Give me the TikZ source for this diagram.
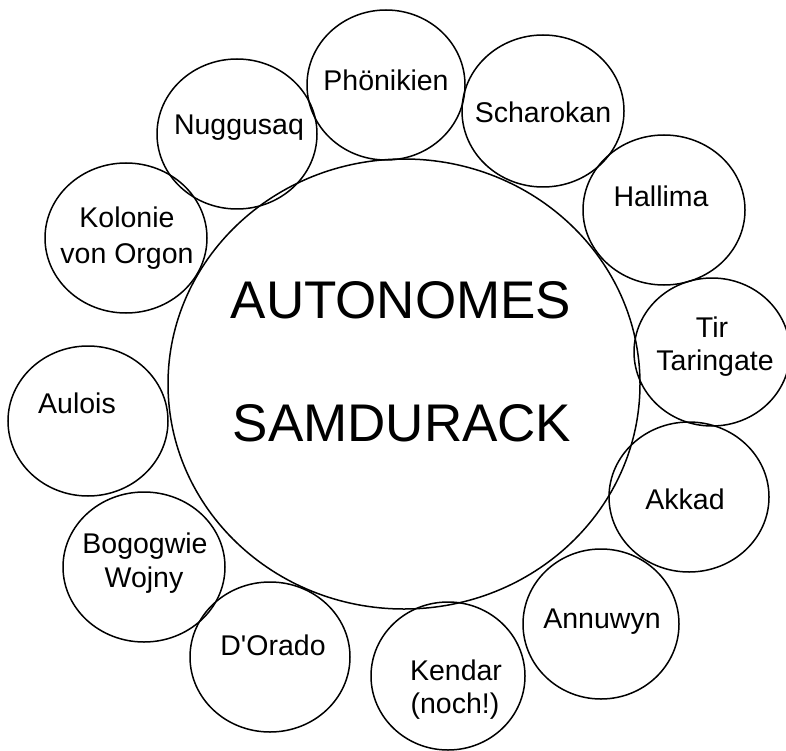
\documentclass[tikz,border=0pt]{standalone}
\usepackage{fontspec}
\setmainfont{Liberation Sans}[Ligatures=TeXOff]
\usetikzlibrary{shapes.geometric}
\begin{document}
\begin{tikzpicture}[x=1pt,y=-1pt,
  ring/.style={draw=black, line width=1.5pt, ellipse, inner sep=0pt},
  lbl/.style={anchor=base, inner sep=0pt, font=\fontsize{28.5}{32}\selectfont},
  biglbl/.style={anchor=base, inner sep=0pt, font=\fontsize{53}{60}\selectfont}]
\useasboundingbox (0,0) rectangle (786,751);
\fill[white] (0,0) rectangle (786,751);
% central
\node[ring, minimum width=472pt, minimum height=450pt] (center) at (404,384) {};
% satellites
\node[ring, minimum width=158pt, minimum height=150pt] (phon) at (386,85) {};
\node[ring, minimum width=160pt, minimum height=150pt] (nugg) at (237,134) {};
\node[ring, minimum width=162pt, minimum height=150pt] (kolo) at (126,238) {};
\node[ring, minimum width=160pt, minimum height=150pt] (aulo) at (88,421) {};
\node[ring, minimum width=162pt, minimum height=150pt] (bogo) at (144,567) {};
\node[ring, minimum width=160pt, minimum height=150pt] (dora) at (270,657) {};
\node[ring, minimum width=154pt, minimum height=148pt] (kend) at (448,676) {};
\node[ring, minimum width=156pt, minimum height=150pt] (annu) at (601,624) {};
\node[ring, minimum width=160pt, minimum height=150pt] (akka) at (689,497) {};
\node[ring, minimum width=156pt, minimum height=148pt] (tirt) at (712,352) {};
\node[ring, minimum width=162pt, minimum height=150pt] (hall) at (664,210) {};
\node[ring, minimum width=162pt, minimum height=152pt] (scha) at (543,111) {};
% texts
\node[biglbl] (t1) at (401,318) {AUTONOMES};
\node[biglbl] (t2) at (402,441) {SAMDURACK};
\node[lbl] (l1) at (386,91) {Phönikien};
\node[lbl] (l2) at (239,135) {Nuggusaq};
\node[lbl] (l3) at (543,123) {Scharokan};
\node[lbl] (l4) at (661,207) {Hallima};
\node[lbl] (l5a) at (127,228) {Kolonie};
\node[lbl] (l5b) at (127,263) {von Orgon};
\node[lbl] (l6a) at (712,337) {Tir};
\node[lbl] (l6b) at (715,370) {Taringate};
\node[lbl] (l7) at (77,413) {Aulois};
\node[lbl] (l8) at (685,509) {Akkad};
\node[lbl] (l9) at (602,628) {Annuwyn};
\node[lbl] (l10a) at (456,680) {Kendar};
\node[lbl] (l10b) at (455,713) {(noch!)};
\node[lbl] (l11) at (273,655) {D'Orado};
\node[lbl] (l12a) at (145,553) {Bogogwie};
\node[lbl] (l12b) at (144,587) {Wojny};
\end{tikzpicture}
\end{document}
